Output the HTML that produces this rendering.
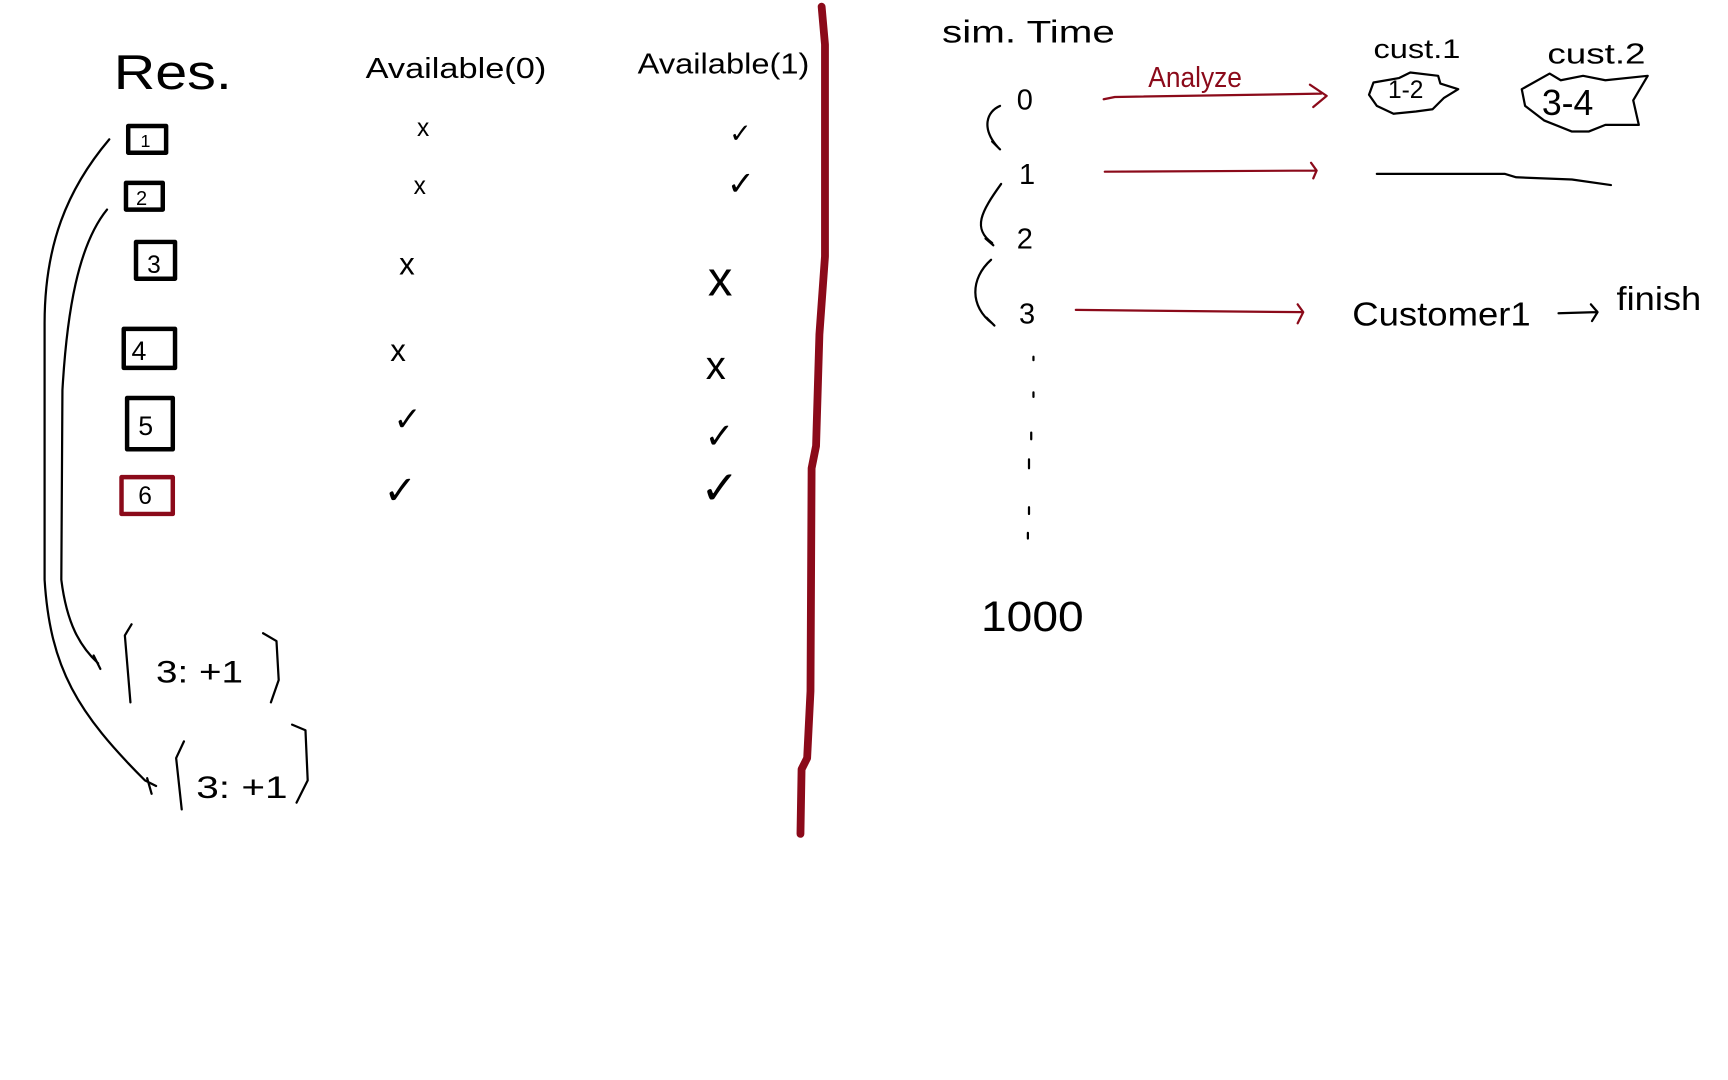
<!DOCTYPE html>
<html><head><meta charset="utf-8"><title>Sketch</title>
<style>
html,body{margin:0;padding:0;background:#fff;}
svg{display:block;width:1728px;height:1080px;}
text{font-family:"Liberation Sans",sans-serif;fill:#000;}
.k{stroke:#000;fill:none;stroke-width:2;stroke-linecap:round;stroke-linejoin:round;}
.r{stroke:#8b0a1a;fill:none;stroke-width:2;stroke-linecap:round;stroke-linejoin:round;}
</style></head>
<body>
<svg viewBox="0 0 1550 968.75" preserveAspectRatio="none">
<rect width="1550" height="968.75" fill="#fff"/>
<text x="102" y="80" font-size="44" textLength="106" lengthAdjust="spacingAndGlyphs">Res.</text>
<text x="328" y="70" font-size="26" textLength="162" lengthAdjust="spacingAndGlyphs">Available(0)</text>
<text x="572" y="66" font-size="26" textLength="154" lengthAdjust="spacingAndGlyphs">Available(1)</text>
<g>
<rect x="115" y="113" width="34" height="24" class="k" style="stroke-width:4"/><text x="126" y="132" font-size="16">1</text>
<rect x="113" y="164" width="33" height="24" class="k" style="stroke-width:4"/><text x="122" y="184" font-size="18">2</text>
<rect x="122" y="217" width="35" height="33" class="k" style="stroke-width:4"/><text x="132" y="245" font-size="22">3</text>
<rect x="111" y="295" width="46" height="35" class="k" style="stroke-width:4"/><text x="118" y="323" font-size="24">4</text>
<rect x="114" y="357" width="41" height="46" class="k" style="stroke-width:4"/><text x="124" y="390" font-size="24">5</text>
<rect x="109" y="428" width="46" height="33" class="r" style="stroke-width:4"/><text x="124" y="452" font-size="22">6</text>
</g>
<g font-size="22">
<text x="374" y="122">x</text><text x="371" y="174">x</text>
<text x="358" y="246" font-size="28">x</text><text x="350" y="324" font-size="28">x</text>
<text x="353" y="386" font-size="30">✓</text><text x="344" y="452" font-size="36">✓</text>
</g>
<g>
<text x="654" y="128" font-size="24">✓</text><text x="652" y="175" font-size="30">✓</text>
<text x="635" y="265" font-size="44">x</text><text x="633" y="340" font-size="36">x</text>
<text x="632" y="402" font-size="32">✓</text><text x="628" y="452" font-size="42">✓</text>
</g>
<path class="r" style="stroke-width:7" d="M737 6 L740 40 L740 230 L735 300 L732 400 L728 420 L727 620 L724 680 L719 690 L718 748"/>
<path class="k" d="M98 125 C60 170 40 220 40 290 L40 520 C45 600 70 640 130 700 L140 705 M132 698 L136 712"/>
<path class="k" d="M96 188 C70 220 60 280 56 350 L55 520 C60 560 72 580 88 595 M84 588 L90 600"/>
<g>
<path class="k" d="M118 560 L112 570 L117 630 M236 568 L248 575 L250 610 L243 630"/>
<text x="140" y="612" font-size="28" textLength="78" lengthAdjust="spacingAndGlyphs">3: +1</text></g>
<g>
<path class="k" d="M165 665 L158 680 L163 726 M262 650 L274 655 L276 700 L266 720"/>
<text x="176" y="716" font-size="28" textLength="82" lengthAdjust="spacingAndGlyphs">3: +1</text></g>
<text x="845" y="38" font-size="28" textLength="155" lengthAdjust="spacingAndGlyphs">sim. Time</text>
<g font-size="26">
<text x="912" y="98">0</text><text x="914" y="165">1</text><text x="912" y="223">2</text><text x="914" y="290">3</text>
<text x="880" y="566" font-size="38" textLength="92" lengthAdjust="spacingAndGlyphs">1000</text>
<path class="k" d="M927 320 v3 M927 352 v4 M925 388 v6 M923 412 v8 M923 455 v6 M922 478 v5"/>
<path class="k" d="M897 95 C885 100 880 115 895 132 M890 127 L897 134" />
<path class="k" d="M898 165 C880 190 872 205 890 218 M884 214 L891 220"/>
<path class="k" d="M889 233 C870 250 870 275 890 290 M885 285 L892 292"/>
</g>
<text x="1030" y="78" font-size="26" textLength="84" lengthAdjust="spacingAndGlyphs" style="fill:#8b0a1a">Analyze</text>
<path class="r" d="M990 89 L1000 87 L1185 84 M1175 76 L1190 86 L1178 96"/>
<path class="r" d="M991 154 L1180 153 M1176 146 L1181 153 L1178 160"/>
<path class="r" d="M965 278 L1168 280 M1164 273 L1169 280 L1164 290"/>
<text x="1232" y="52" font-size="24" textLength="78" lengthAdjust="spacingAndGlyphs">cust.1</text>
<text x="1388" y="57" font-size="26" textLength="88" lengthAdjust="spacingAndGlyphs">cust.2</text>
<path class="k" d="M1232 74 L1255 70 L1265 65 L1290 68 L1292 75 L1308 80 L1295 88 L1285 98 L1270 100 L1250 102 L1235 95 L1228 85 Z"/>
<text x="1245" y="88" font-size="22">1-2</text>
<path class="k" d="M1365 80 L1390 66 L1400 72 L1420 68 L1440 72 L1478 68 L1465 90 L1470 112 L1440 112 L1425 118 L1410 118 L1385 108 L1368 95 Z"/>
<text x="1383" y="103" font-size="32">3-4</text>
<path class="k" d="M1235 156 L1350 156 L1360 159 L1410 161 L1445 166"/>
<text x="1213" y="292" font-size="30" textLength="160" lengthAdjust="spacingAndGlyphs">Customer1</text>
<path class="k" d="M1398 281 L1432 280 M1427 273 L1433 280 L1428 288"/>
<text x="1450" y="278" font-size="30" textLength="76" lengthAdjust="spacingAndGlyphs">finish</text>
</svg>
</body></html>
